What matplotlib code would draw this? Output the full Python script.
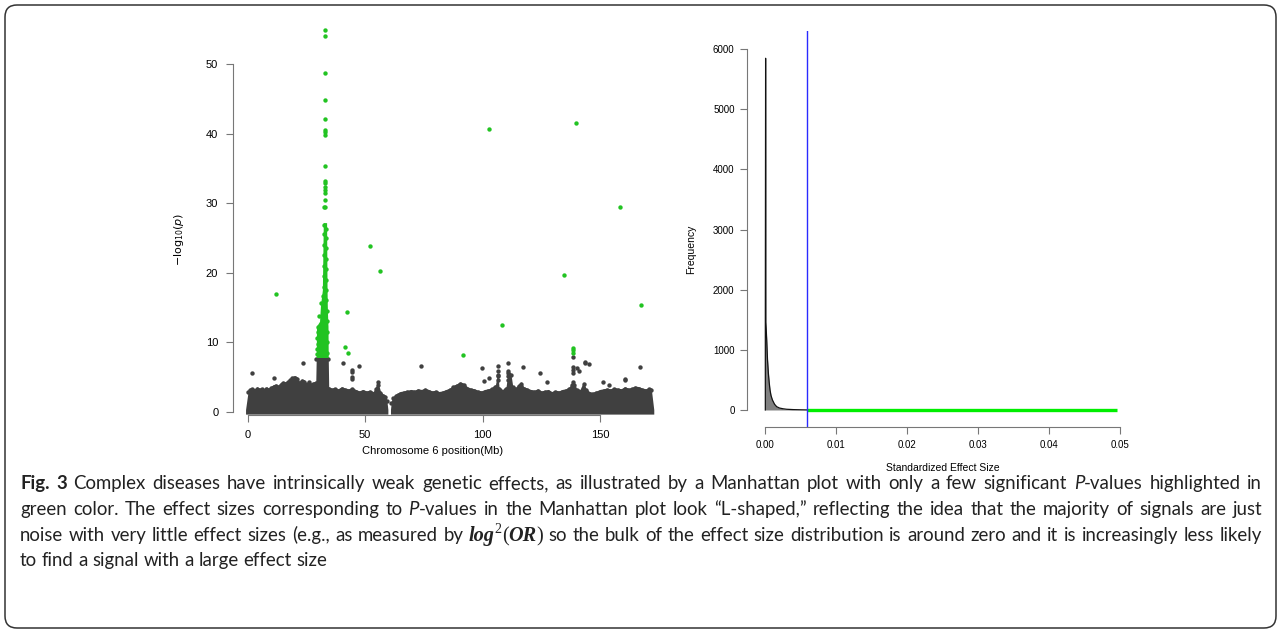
import matplotlib
matplotlib.use("Agg")
import matplotlib.pyplot as plt
from matplotlib.patches import FancyBboxPatch
from matplotlib.transforms import IdentityTransform
import numpy as np

W, H = 1281, 632

# ---- Manhattan plot: grey background mass (upper envelope)
env_a_mb = [-0.9, 0.3, 1, 2, 3, 4, 5, 6, 7, 8, 9, 10, 11, 12, 13, 14, 15, 16, 17, 18, 19, 20, 21,
            22, 23, 24, 25, 26, 27, 28, 29.0, 29.2, 34.3, 34.5, 35.5, 37, 38.5, 40, 41.5, 43, 44.5,
            46, 47.5, 49, 50.5, 52, 53.5, 54.5, 55.5, 56.5, 57.5, 58.5, 59.2, 59.7]
env_a_top = [0.3, 3.2, 3.4, 3.5, 3.3, 3.6, 3.4, 3.5, 3.3, 3.6, 3.4, 3.7, 3.9, 4.0, 3.8, 4.2, 4.4,
             4.3, 4.5, 4.8, 5.1, 5.2, 5.0, 4.4, 4.7, 4.6, 4.2, 4.5, 4.1, 4.3, 4.4, 7.9, 7.9, 3.6,
             3.4, 3.5, 3.3, 3.6, 3.4, 3.3, 3.5, 3.2, 3.0, 3.2, 3.0, 3.1, 2.9, 3.6, 4.2, 3.0, 2.6,
             2.4, 1.8, 0.3]
env_b_mb = [60.8, 61.2, 62, 63, 64, 65, 66.5, 68, 69.5, 71, 72.5, 74, 75.5, 77, 78.5, 80, 81.5,
            83, 84.5, 86, 87.5, 89, 90.5, 92, 93.5, 95, 96.5, 98, 99.5, 101, 102.5, 104, 105.5,
            106.5, 107, 108.5, 110, 111, 112, 112.8, 114, 115.5, 116.5, 117.5, 119, 120.5, 122,
            123.5, 125, 126.5, 128, 129.5, 131, 132.5, 134, 135.5, 137, 138, 139, 140, 141.5, 143,
            144, 145.5, 147, 148.5, 150, 151.5, 153, 154.5, 156, 157.5, 159, 160.5, 162, 163.5,
            165, 166.5, 168, 169.5, 171, 171.8, 172.9]
env_b_top = [0.3, 1.6, 2.2, 2.5, 2.7, 2.9, 3.0, 3.1, 3.2, 3.1, 3.3, 3.2, 3.4, 3.2, 3.0, 3.1, 2.9,
             3.0, 3.2, 3.4, 3.8, 4.0, 4.3, 4.1, 3.6, 3.4, 3.3, 3.1, 3.0, 3.2, 3.3, 3.5, 3.9, 5.6,
             3.6, 3.2, 3.6, 5.8, 5.6, 3.8, 3.5, 4.0, 4.3, 3.6, 3.4, 3.2, 3.1, 3.3, 3.0, 3.1, 3.2,
             2.9, 3.1, 3.0, 3.2, 3.3, 3.6, 4.2, 4.1, 3.4, 3.2, 4.3, 3.4, 2.9, 2.8, 3.0, 3.2, 3.3,
             3.4, 3.3, 3.5, 3.4, 3.3, 3.6, 3.4, 3.5, 3.7, 3.6, 3.4, 3.3, 3.5, 3.4, 0.3]

# isolated grey SNPs above the mass
grey_mb = [1.9, 11.4, 23.4, 40.5, 44.3, 44.3, 44.3, 44.3, 47.6, 55.6, 73.8, 99.6, 100.7, 102.9,
           106.7, 106.7, 106.7, 106.7, 111.0, 111.0, 111.0, 111.0, 111.2, 117.4, 124.6, 127.3,
           138.4, 138.4, 138.4, 138.4, 138.6, 140.0, 141.0, 143.6, 143.8, 145.4, 151.4, 153.9,
           160.6, 160.6, 166.9]
grey_p = [5.5, 4.9, 6.96, 7.05, 6.0, 5.7, 5.0, 4.7, 6.5, 4.3, 6.6, 6.3, 4.4, 4.8,
          6.5, 5.8, 5.2, 4.5, 7.0, 5.8, 5.2, 4.6, 4.0, 6.4, 5.6, 4.2,
          7.8, 6.4, 6.0, 5.5, 4.3, 6.3, 5.8, 7.2, 7.0, 6.8, 4.3, 3.8,
          4.7, 4.5, 6.4]

# significant SNPs (green)
green_mb = [12.2, 42.4, 41.6, 42.6, 52.2, 56.3, 91.7, 102.7, 108.3, 134.5, 139.6, 138.4, 138.4,
            138.4, 158.4, 167.4,
            32.8, 32.8, 32.9, 32.9, 32.8, 32.9, 32.8, 32.8, 32.9, 32.8, 32.9, 32.8, 32.9, 32.8,
            32.8, 32.4, 33.1,
            29.7, 29.7, 29.8, 29.7, 29.8, 29.9, 30.4, 31.4, 31.9, 32.5, 32.6, 32.5, 32.6, 32.5,
            32.6, 32.7, 33.2, 33.3, 33.2, 33.3, 33.2, 33.3, 33.4, 33.5, 33.6, 33.7, 33.8, 33.8,
            33.8]
green_p = [16.9, 14.4, 9.26, 8.45, 23.8, 20.2, 8.16, 40.7, 12.43, 19.7, 41.6, 9.2, 8.9,
           8.5, 29.4, 15.3,
           54.9, 54.1, 48.8, 44.9, 42.1, 40.5, 40.2, 39.8, 35.35, 33.2, 32.9, 32.4, 31.9, 31.5,
           30.5, 29.5, 29.4,
           8.3, 9.0, 9.8, 10.6, 11.4, 12.2, 13.7, 15.7, 16.6, 18.0, 19.5, 21.0, 22.5, 24.0,
           25.5, 26.8, 26.3, 25.0, 23.5, 22.0, 20.5, 19.0, 17.5, 16.0, 14.5, 13.0, 11.5, 10.0,
           8.5]
# dense green HLA band (outline of overlapping dots)
hla_p = [7.8, 12.3, 13.0, 15.3, 17.5, 27.2]
hla_left = [29.2, 29.3, 30.6, 31.0, 31.8, 32.2]
hla_right = [34.3, 34.2, 34.1, 33.9, 33.8, 33.6]

# ---- effect size distribution
effect = [0, 0, 0.00004, 0.00007, 0.00012, 0.0002, 0.0003, 0.00043, 0.00055, 0.00066, 0.0008,
          0.001, 0.0013, 0.0016, 0.002, 0.0025, 0.003, 0.004, 0.005, 0.0058]
freq = [0, 1470, 5850, 1460, 1350, 1150, 850, 610, 450, 333, 240, 166, 95, 55, 32, 20, 12, 6, 3, 1]
cutoff = 0.0058
effect_max = 0.0495

grey_c = '#404040'
green_c = '#22c322'
tick_font = 8

fig = plt.figure(figsize=(W / 100, H / 100), dpi=100)
plt.rcParams['font.family'] = ['Liberation Sans', 'DejaVu Sans']

# ---------------- left: Manhattan
ax1 = fig.add_axes([0.1821, 0.3434, 0.3378, 0.632])
ax1.fill_between(env_a_mb, -0.35, env_a_top, color=grey_c, lw=0)
ax1.fill_between(env_b_mb, -0.35, env_b_top, color=grey_c, lw=0)
ax1.scatter(env_a_mb[1:-1], np.array(env_a_top[1:-1]) - 0.3, s=10, c=grey_c, lw=0)
ax1.scatter(env_b_mb[1:-1], np.array(env_b_top[1:-1]) - 0.3, s=10, c=grey_c, lw=0)
ax1.scatter(grey_mb, grey_p, s=10, c=grey_c, lw=0)
ax1.fill_betweenx(hla_p, hla_left, hla_right, color=green_c, lw=0)
ax1.scatter(green_mb, green_p, s=10, c=green_c, lw=0, zorder=3)
ax1.set_xlim(-6.13, 178.1)
ax1.set_ylim(-0.475, 57)
ax1.set_xticks([0, 50, 100, 150])
ax1.set_yticks([0, 10, 20, 30, 40, 50])
ax1.spines[['top', 'right']].set_visible(False)
ax1.spines['bottom'].set_bounds(0, 150)
ax1.spines['left'].set_bounds(0, 50)
ax1.tick_params(length=4.8, width=0.8, color='#777777', labelsize=tick_font, pad=6)
for s in ['bottom', 'left']:
    ax1.spines[s].set_color('#777777')
    ax1.spines[s].set_linewidth(0.8)
ax1.set_xlabel('Chromosome 6 position(Mb)', fontsize=tick_font)
ax1.xaxis.set_label_coords(0.46, -0.077)
ax1.set_ylabel(r'$-\mathrm{log}_{10}(p)$', fontsize=tick_font)
ax1.yaxis.set_label_coords(-0.109, 0.44)

# ---------------- right: effect sizes
ax2 = fig.add_axes([0.5834, 0.3239, 0.305, 0.6267])
ax2.fill_between(effect, 0, freq, color='#808080', lw=0)
ax2.plot(effect, freq, color='#111111', lw=0.9)
ax2.plot([cutoff, effect_max], [0, 0], color='#00ee00', lw=2.4, solid_capstyle='butt')
ax2.axvline(cutoff, color='#2a2aff', lw=1.0)
ax2.set_xlim(-0.002535, 0.0525)
ax2.set_ylim(-288, 6300)
ax2.set_xticks([0, 0.01, 0.02, 0.03, 0.04, 0.05])
ax2.set_xticklabels(['0.00', '0.01', '0.02', '0.03', '0.04', '0.05'])
ax2.set_yticks([0, 1000, 2000, 3000, 4000, 5000, 6000])
ax2.spines[['top', 'right']].set_visible(False)
ax2.spines['bottom'].set_bounds(0, 0.05)
ax2.spines['left'].set_bounds(0, 6000)
ax2.tick_params(length=5.2, width=0.8, color='#777777', labelsize=tick_font - 1, pad=4)
for s in ['bottom', 'left']:
    ax2.spines[s].set_color('#777777')
    ax2.spines[s].set_linewidth(0.8)
ax2.set_xlabel('Standardized Effect Size', fontsize=tick_font - 0.5)
ax2.xaxis.set_label_coords(0.5, -0.09)
ax2.set_ylabel('Frequency', fontsize=tick_font - 0.5)
ax2.yaxis.set_label_coords(-0.13, 0.45)

# ---------------- caption (justified, font size fitted to the first line)
cap_fam = ['Lato', 'Liberation Sans', 'DejaVu Sans']
norm = dict(family=cap_fam, fontsize=12, color='#222222')
bold = dict(norm, weight='bold')
ital = dict(norm, style='italic')
serif_bi = dict(family='Liberation Serif', fontsize=13, color='#222222', style='italic',
                weight='bold')
serif_sup = dict(family='Liberation Serif', fontsize=9, color='#222222', rise=7)
serif_n = dict(family='Liberation Serif', fontsize=13, color='#222222')

caption = [
    ([('Fig. 3', bold), (' Complex diseases have intrinsically weak genetic effects, as illustrated '
      'by a Manhattan plot with only a few significant ', norm), ('P', ital),
      ('-values highlighted in', norm)], True),
    ([('green color. The effect sizes corresponding to ', norm), ('P', ital),
      ('-values in the Manhattan plot look \u201cL-shaped,\u201d reflecting the idea that the '
       'majority of signals are just', norm)], True),
    ([('noise with very little effect sizes (e.g., as measured by ', norm), ('log', serif_bi),
      ('2', serif_sup), ('(', serif_n), ('OR', serif_bi), (')', serif_n),
      (' so the bulk of the effect size distribution is around zero and it is increasingly '
       'less likely', norm)], True),
    ([('to find a signal with a large effect size', norm)], False),
]
cap_left, cap_right = 20, 1262
cap_base = [489, 515, 541, 566]

renderer = fig.canvas.get_renderer()


def width_of(s, st):
    st = {k: v for k, v in st.items() if k != 'rise'}
    t = fig.text(0, 0, s, **st)
    w = t.get_window_extent(renderer).width
    t.remove()
    return w


def split_words(runs):
    words = [[]]
    for s, st in runs:
        for k, p in enumerate(s.split(' ')):
            if k > 0:
                words.append([])
            if p:
                words[-1].append((p, st))
    return [w for w in words if w]


def natural_width(runs):
    return sum(width_of(s, st) for s, st in runs)


# scale the caption size so the widest line fits with normal spacing
nat = max(natural_width(r) for r, j in caption[:3])
scale = 0.985 * (cap_right - cap_left) / nat
for st in (norm, bold, ital, serif_bi, serif_sup, serif_n):
    st['fontsize'] = st['fontsize'] * scale
serif_sup['rise'] = 7 * scale

space = width_of('a a', norm) - width_of('aa', norm)
for (runs, justify), yb in zip(caption, cap_base):
    words = split_words(runs)
    widths = [[width_of(p, st) for p, st in w] for w in words]
    total = sum(sum(w) for w in widths)
    gap = space
    if justify and len(words) > 1:
        gap = (cap_right - cap_left - total) / (len(words) - 1)
    x = cap_left
    for w, ws in zip(words, widths):
        for (p, st), pw in zip(w, ws):
            st2 = {k: v for k, v in st.items() if k != 'rise'}
            fig.text(x / W, (H - yb + st.get('rise', 0)) / H, p, ha='left', va='baseline', **st2)
            x += pw
        x += gap

frame = FancyBboxPatch((5, H - 628), 1271, 623, boxstyle='round,pad=0,rounding_size=12',
                       transform=IdentityTransform(), fill=False, ec='#333333', lw=1.1)
fig.add_artist(frame)

fig.savefig('out.png', dpi=100, facecolor='white')
